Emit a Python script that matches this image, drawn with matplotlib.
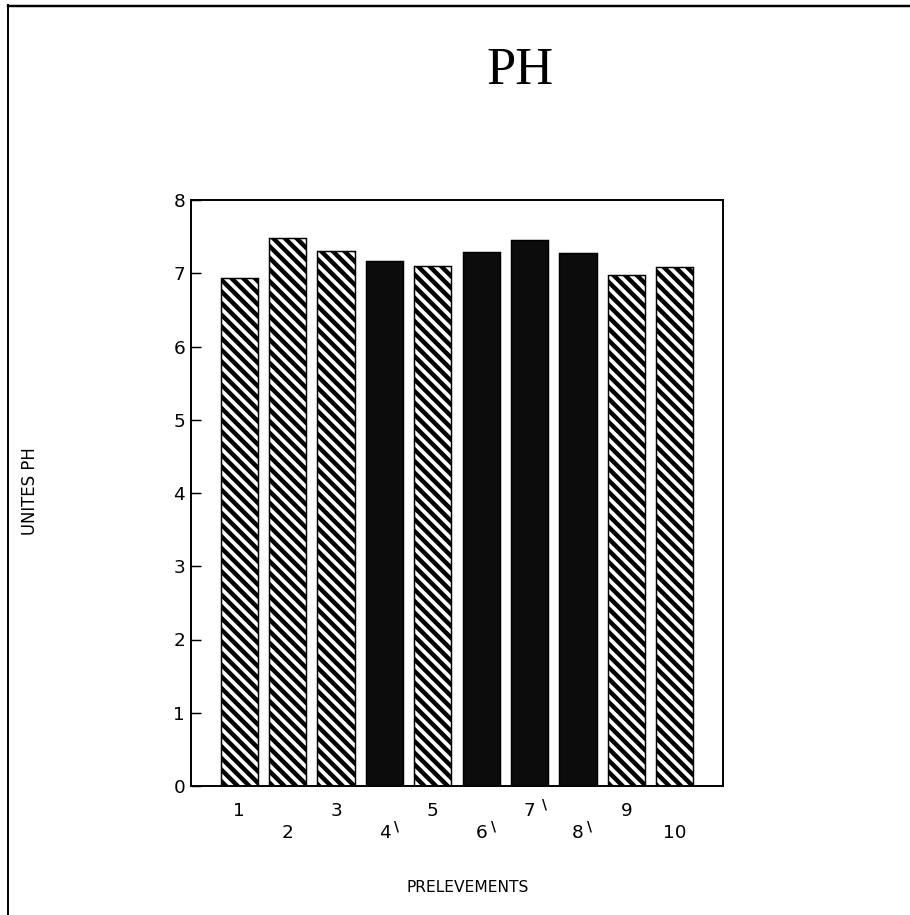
import matplotlib
matplotlib.use("Agg")
import matplotlib.pyplot as plt
from matplotlib.lines import Line2D

# pH measured for each sampling point
prelevements = [1, 2, 3, 4, 5, 6, 7, 8, 9, 10]
ph_values = [6.93, 7.48, 7.30, 7.17, 7.10, 7.29, 7.46, 7.28, 6.97, 7.08]
dark_samples = [4, 6, 7, 8]
y_ticks = [0, 1, 2, 3, 4, 5, 6, 7, 8]

SANS = ["DejaVu Sans"]
SERIF = ["Liberation Serif", "DejaVu Serif"]

plt.rcParams["hatch.linewidth"] = 4.6
plt.rcParams["font.family"] = SANS

DPI = 70
W, H = 910, 915
fig = plt.figure(figsize=(W / DPI, H / DPI), dpi=DPI)
fig.patch.set_facecolor("white")

# frame around the sheet
fig.add_artist(Line2D([8 / W, 8 / W], [0, 1 - 5 / H], transform=fig.transFigure,
                      color="black", lw=2))
fig.add_artist(Line2D([8 / W, 1.0], [1 - 6 / H, 1 - 6 / H], transform=fig.transFigure,
                      color="black", lw=2.5))

ax = fig.add_axes([191 / W, 1 - 786 / H, (723 - 191) / W, (786 - 200) / H])

for x, v in zip(prelevements, ph_values):
    if x in dark_samples:
        ax.bar(x, v, width=0.77, color="#0c0c0c", edgecolor="black", linewidth=1.5)
    else:
        ax.bar(x, v, width=0.77, facecolor="white", edgecolor="black",
               hatch="\\\\", linewidth=1.5)

ax.set_xlim(0, 11)
ax.set_ylim(0, 8)

for s in ax.spines.values():
    s.set_linewidth(2)

ax.set_yticks(y_ticks)
ax.set_yticklabels([str(t) for t in y_ticks])
ax.tick_params(axis="y", direction="in", length=10, width=1.5, labelsize=19, pad=6)

xlabels = [str(p) if p % 2 else "\n" + str(p) for p in prelevements]
ax.set_xticks(prelevements)
ax.set_xticklabels(xlabels)
ax.tick_params(axis="x", length=0, labelsize=19, pad=16)
for t in ax.get_xticklabels():
    t.set_linespacing(1.35)

# small strokes beside the labels of the dark bars
for x in dark_samples:
    if x % 2:
        dx, dy = 15, -19
    else:
        dx, dy = 12, -41
    ax.annotate("\\", xy=(x, 0), xycoords=("data", "axes fraction"),
                xytext=(dx, dy), textcoords="offset pixels",
                ha="center", va="center", fontsize=14, fontweight="bold",
                family="DejaVu Sans", annotation_clip=False)

fig.text(520 / W, 1 - 71 / H, "PH", family=SERIF, fontsize=54,
         ha="center", va="center")
fig.text(30 / W, 1 - 491 / H, "UNITES PH", rotation=90, fontsize=17,
         ha="center", va="center")
fig.text(468 / W, 1 - 887 / H, "PRELEVEMENTS", fontsize=16,
         ha="center", va="center")

fig.savefig("out.png", dpi=DPI, facecolor="white")
